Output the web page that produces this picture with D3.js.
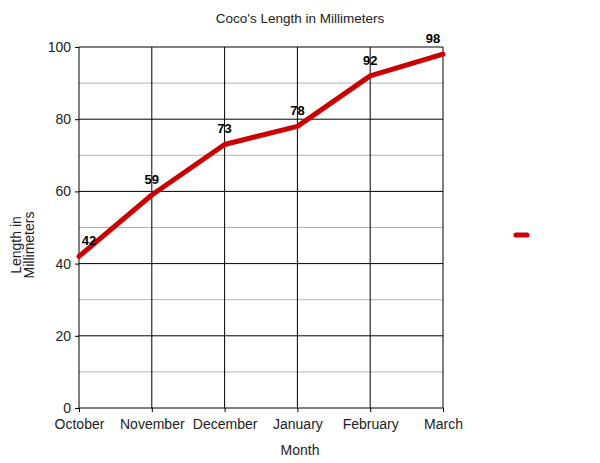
<!DOCTYPE html>
<html>
<head>
<meta charset="utf-8">
<script src="https://cdn.jsdelivr.net/npm/d3@7"></script>
<style>
  body { margin: 0; background: #fff; }
  text { font-family: "Liberation Sans", Arial, sans-serif; }
</style>
</head>
<body>
<div id="target"></div>
<script>
const months = ["October", "November", "December", "January", "February", "March"];
const lengths = [42, 59, 73, 78, 92, 98];
const yMajor = [0, 20, 40, 60, 80, 100];
const yMinor = [10, 30, 50, 70, 90];

const W = 600, H = 463;
const margin = {top: 47, right: 157, bottom: 55, left: 79};
const width = W - margin.left - margin.right,
      height = H - margin.top - margin.bottom;
const red = "#cc0000";

let svg = d3.select("#target").append("svg")
    .attr("width", W)
    .attr("height", H);

let x = d3.scalePoint().domain(months).range([0, width]);
let y = d3.scaleLinear().domain([0, 100]).range([height, 0]);

let g = svg.append("g").attr("transform", `translate(${margin.left},${margin.top})`);

// minor grid
g.selectAll(".minor").data(yMinor).enter().append("line")
    .attr("x1", 0).attr("x2", width)
    .attr("y1", d => y(d)).attr("y2", d => y(d))
    .attr("stroke", "#b3b3b3").attr("stroke-width", 1);

// major grid
g.selectAll(".major").data(yMajor).enter().append("line")
    .attr("x1", 0).attr("x2", width)
    .attr("y1", d => y(d)).attr("y2", d => y(d))
    .attr("stroke", "#000").attr("stroke-width", 1);

g.selectAll(".vgrid").data(months).enter().append("line")
    .attr("x1", d => x(d)).attr("x2", d => x(d))
    .attr("y1", 0).attr("y2", height)
    .attr("stroke", "#000").attr("stroke-width", 1);

// axes
let ya = g.append("g")
    .call(d3.axisLeft(y).tickValues(yMajor).tickSize(4).tickPadding(4));
ya.select(".domain").remove();
ya.selectAll("text").attr("font-size", 14).attr("fill", "#222");

let xa = g.append("g")
    .attr("transform", `translate(0,${height})`)
    .call(d3.axisBottom(x).tickSize(4).tickPadding(7));
xa.select(".domain").remove();
xa.selectAll("text").attr("font-size", 14).attr("fill", "#222");

// line
let valueline = d3.line()
    .x((d, i) => x(months[i]))
    .y(d => y(d));

g.append("path")
    .datum(lengths)
    .attr("d", valueline)
    .attr("fill", "none")
    .attr("stroke", red)
    .attr("stroke-width", 5)
    .attr("stroke-linejoin", "round")
    .attr("stroke-linecap", "round");

// value labels, kept inside the plot area
g.selectAll(".lbl").data(lengths).enter().append("text")
    .attr("x", (d, i) => Math.min(Math.max(x(months[i]), 10), width - 10))
    .attr("y", d => y(d) - 11)
    .attr("text-anchor", "middle")
    .attr("font-size", 13)
    .attr("font-weight", "bold")
    .text(d => d);

// title + axis titles
svg.append("text")
    .attr("x", 300).attr("y", 23)
    .attr("text-anchor", "middle")
    .attr("font-size", 13.5)
    .attr("fill", "#222")
    .text("Coco's Length in Millimeters");

svg.append("text")
    .attr("x", 300).attr("y", 455)
    .attr("text-anchor", "middle")
    .attr("font-size", 14)
    .attr("fill", "#222")
    .text("Month");

let yt = svg.append("text")
    .attr("transform", "translate(21,245) rotate(-90)")
    .attr("text-anchor", "middle")
    .attr("font-size", 14)
    .attr("fill", "#222");
yt.append("tspan").attr("x", 0).attr("dy", 0).text("Length in");
yt.append("tspan").attr("x", 0).attr("dy", 13).text("Millimeters");

// legend swatch (no label)
svg.append("line")
    .attr("x1", 516).attr("x2", 527)
    .attr("y1", 235).attr("y2", 235)
    .attr("stroke", red)
    .attr("stroke-width", 5)
    .attr("stroke-linecap", "round");
</script>
</body>
</html>
